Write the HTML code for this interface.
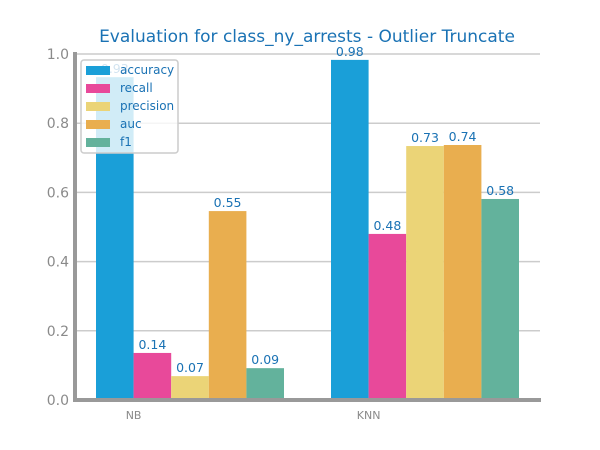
<!DOCTYPE html>
<html><head><meta charset="utf-8"><style>
body{margin:0;background:#fff;}
svg{display:block;font-family:"DejaVu Sans","Liberation Sans",sans-serif;}
</style></head><body>
<svg id="chart" width="600" height="450"></svg>
<script>
const categories=["NB","KNN"];
const metrics=["accuracy","recall","precision","auc","f1"];
const colors=["#1a9fd8","#e8499a","#ebd477","#e9ae4f","#63b29c"];
const nbValues=[0.933,0.136,0.069,0.546,0.092];
const knnValues=[0.983,0.48,0.734,0.737,0.581];
const yTicks=[0,0.2,0.4,0.6,0.8,1.0];
const series=[nbValues,knnValues];
const NS="http://www.w3.org/2000/svg";
const svg=document.getElementById('chart');
const X0=75,X1=540,Y0=400,Y1=54;
const y=v=>Y0-(v/1.0)*(Y0-Y1);
const groupStart=[96,331],bw=37.6;
const x=(g,m)=>groupStart[g]+m*bw;
function mk(t,a,txt){const e=document.createElementNS(NS,t);for(const k in a)e.setAttribute(k,a[k]);if(txt!==undefined)e.textContent=txt;svg.appendChild(e);return e;}
let t=mk('text',{x:307,y:42,'text-anchor':'middle','font-size':17,fill:'#1a72b4'},'Evaluation for class_ny_arrests - Outlier Truncate');


yTicks.forEach(v=>{
 let g=mk('line',{x1:X0,x2:X1,y1:y(v),y2:y(v),stroke:'#cccccc','stroke-width':1.5});
 
 
 let l=mk('text',{x:69,y:y(v)+5,'text-anchor':'end','font-size':14,fill:'#8a8a8a'},v.toFixed(1));
 
 
});
series.forEach((vals,g)=>{
 vals.forEach((v,m)=>{
  let r=mk('rect',{x:x(g,m),y:y(v),width:bw,height:Y0-y(v),fill:colors[m]});
  
  
  let l=mk('text',{x:x(g,m)+bw/2,y:y(v)-4,'text-anchor':'middle','font-size':12.5,fill:'#1a72b4'},v.toFixed(2));
  
  
 });
 let c=mk('text',{x:x(g,1),y:419,'text-anchor':'middle','font-size':11,fill:'#8a8a8a'},categories[g]);
 
 
});
let ax=mk('line',{x1:X0,x2:X0,y1:52,y2:402,stroke:'#999','stroke-width':4});


let bx=mk('line',{x1:73,x2:541,y1:400,y2:400,stroke:'#999','stroke-width':4});


let lg=mk('rect',{x:81,y:60,width:97,height:93,rx:3,fill:'rgba(255,255,255,0.8)',stroke:'#cccccc','stroke-width':1.5});


metrics.forEach((m,i)=>{
 let s=mk('rect',{x:86,y:66+i*18,width:24,height:9,fill:colors[i]});
 
 
 let l=mk('text',{x:120,y:74+i*18,'font-size':12,fill:'#1a72b4'},m);
 
 
});
</script>
</body></html>
